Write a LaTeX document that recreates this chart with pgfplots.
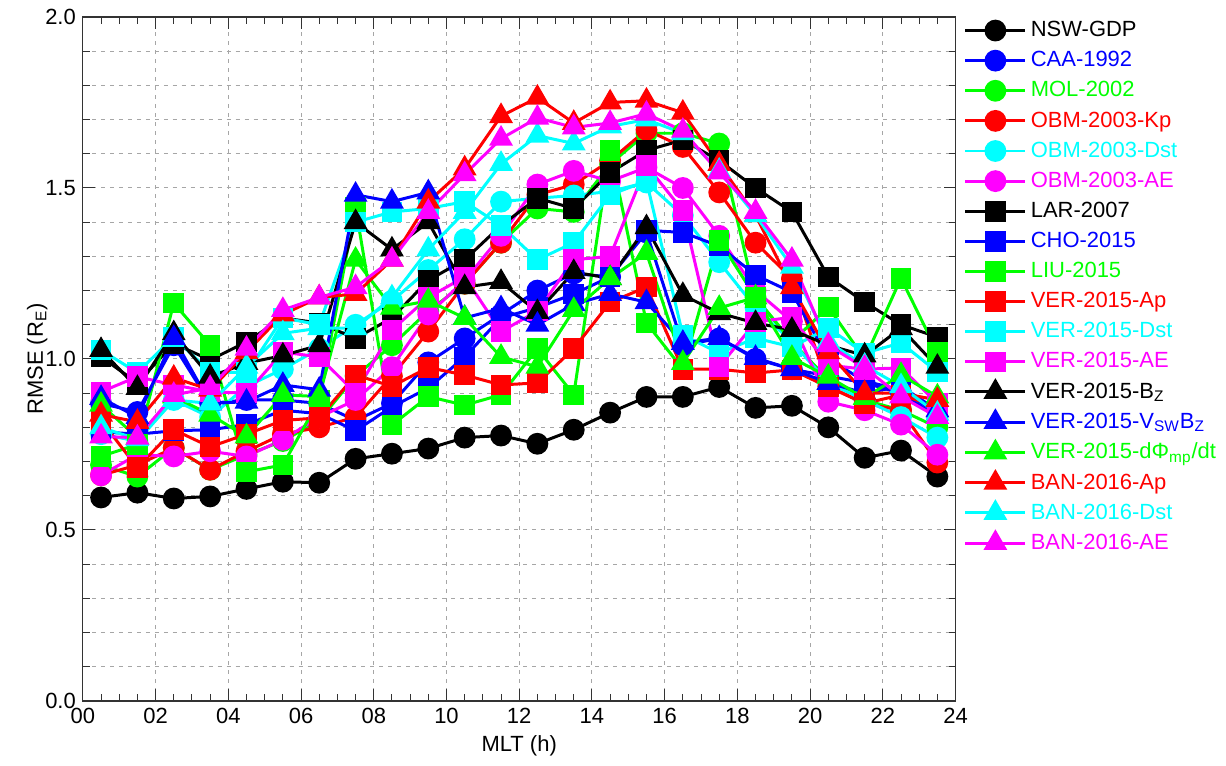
\documentclass[border=0pt]{standalone}
\usepackage{fontspec}
\setmainfont{Liberation Sans}
\usepackage{pgfplots}
\usepackage{pgfplotstable}
\pgfplotsset{compat=1.18}

\definecolor{cK}{rgb}{0,0,0}
\definecolor{cB}{rgb}{0,0,1}
\definecolor{cG}{rgb}{0,1,0}
\definecolor{cR}{rgb}{1,0,0}
\definecolor{cC}{rgb}{0,1,1}
\definecolor{cM}{rgb}{1,0,1}

% RMSE per MLT bin, one column per model
\pgfplotstableread{
x    nsw   caa   mol   obmkp obmdst obmae lar   cho   liu   verap verdst verae verbz vervb verdp banap bandst banae
0.5  0.595 0.87  0.69  0.66  0.78  0.66  1.006 0.787 0.715 0.82  1.026 0.904 1.026 0.886 0.866 0.837 0.80  0.773
1.5  0.609 0.845 0.656 0.69  0.76  0.72  0.93  0.78  0.75  0.682 0.96  0.948 0.915 0.83  0.77  0.816 0.765 0.77
2.5  0.592 1.04  0.74  0.74  0.88  0.715 1.045 0.79  1.163 0.793 1.064 0.924 1.075 1.061 0.89  0.945 0.88  0.895
3.5  0.598 0.87  0.676 0.676 0.83  0.73  0.997 0.793 1.04  0.743 0.962 0.904 0.948 0.87  0.837 0.91  0.87  0.915
4.5  0.620 0.88  0.72  0.73  0.92  0.715 1.05  0.808 0.67  0.78  0.96  0.90  0.988 0.875 0.773 1.02  0.977 1.03
5.5  0.641 0.88  0.76  0.78  0.97  0.764 1.12  0.85  0.69  0.82  1.12  1.02  1.01  0.924 0.895 1.13  1.075 1.143
6.5  0.638 0.87  0.82  0.80  1.03  0.83  1.105 0.84  0.88  0.828 1.10  1.006 1.04  0.91  0.89  1.18  1.09  1.18
7.5  0.708 0.82  0.95  0.83  1.10  0.88  1.06  0.79  1.443 0.953 1.40  0.90  1.40  1.48  1.29  1.19  1.09  1.21
8.5  0.723 0.87  1.04  0.95  1.17  0.976 1.12  0.86  0.807 0.92  1.43  1.085 1.32  1.46  1.15  1.29  1.18  1.29
9.5  0.738 0.99  1.14  1.08  1.26  1.13  1.23  0.915 0.89  0.975 1.44  1.18  1.40  1.487 1.17  1.46  1.32  1.43
10.5 0.770 1.06  1.22  1.22  1.35  1.23  1.29  1.006 0.865 0.953 1.46  1.24  1.21  1.12  1.12  1.557 1.43  1.54
11.5 0.776 1.13  1.34  1.34  1.46  1.36  1.39  1.12  0.895 0.924 1.39  1.08  1.225 1.148 1.006 1.71  1.57  1.644
12.5 0.752 1.20  1.44  1.48  1.47  1.51  1.47  1.15  1.03  0.93  1.29  1.14  1.137 1.10  0.977 1.764 1.653 1.705
13.5 0.793 1.25  1.43  1.51  1.478 1.55  1.44  1.19  0.895 1.03  1.34  1.29  1.254 1.16  1.143 1.69  1.63  1.677
14.5 0.843 1.24  1.57  1.58  1.49  1.52  1.545 1.24  1.61  1.166 1.48  1.30  1.236 1.19  1.236 1.75  1.68  1.69
15.5 0.889 1.37  1.66  1.67  1.516 1.56  1.61  1.376 1.105 1.21  1.52  1.566 1.385 1.166 1.31  1.755 1.70  1.717
16.5 0.889 1.04  1.66  1.62  1.42  1.50  1.64  1.37  0.97  0.97  1.07  1.434 1.187 1.047 0.988 1.72  1.66  1.667
17.5 0.918 1.06  1.63  1.487 1.283 1.36  1.58  1.33  1.347 0.97  1.017 0.977 1.134 1.061 1.149 1.57  1.55  1.545
18.5 0.857 1.00  1.18  1.34  1.15  1.20  1.50  1.245 1.18  0.959 1.061 1.108 1.105 1.003 1.18  1.42  1.42  1.43
19.5 0.863 0.97  1.05  1.235 1.05  1.11  1.43  1.195 1.05  0.968 1.035 1.122 1.085 0.97  1.003 1.21  1.27  1.29
20.5 0.800 0.95  0.94  0.92  0.93  0.875 1.24  1.00  1.152 0.918 1.09  0.982 1.04  0.93  0.948 1.02  1.05  1.04
21.5 0.711 0.93  0.88  0.87  0.88  0.85  1.166 0.935 1.00  0.87  1.017 0.97  1.01  0.90  0.886 0.90  0.98  0.974
22.5 0.732 0.90  0.85  0.85  0.83  0.808 1.10  0.91  1.236 0.895 1.047 0.974 1.09  0.92  0.953 0.90  0.92  0.89
23.5 0.656 0.83  0.80  0.697 0.77  0.72  1.064 0.84  1.02  0.86  0.962 0.87  0.977 0.85  0.89  0.88  0.84  0.83
}\rmse

\pgfplotsset{
  ser/.style={color=#1, line width=1.5pt, mark options={solid, fill=#1, draw=#1}},
  mc/.style={mark=*, mark size=4.7pt},
  ms/.style={mark=square*, mark size=4.4pt},
  mt/.style={mark=triangle*, mark size=5.4pt},
}

\begin{document}
\begin{tikzpicture}
\begin{axis}[
    name=ax,
    scale only axis,
    width=437pt,
    height=342.5pt,
    xmin=0, xmax=24,
    ymin=0, ymax=2,
    xtick={0,2,...,24},
    xticklabels={00,02,04,06,08,10,12,14,16,18,20,22,24},
    minor x tick num=3,
    ytick={0,0.5,1,1.5,2},
    minor ytick={0.1,0.2,0.3,0.4,0.6,0.7,0.8,0.9,1.1,1.2,1.3,1.4,1.6,1.7,1.8,1.9},
    yticklabel style={/pgf/number format/.cd, fixed, fixed zerofill, precision=1},
    /pgf/number format/assume math mode=true,
    tick align=inside,
    major tick length=6pt,
    minor tick length=3.5pt,
    tick style={black!80, line width=0.5pt},
    axis line style={black!80, line width=0.6pt},
    xmajorgrids, ymajorgrids, yminorgrids,
    grid style={gray!70, dash pattern=on 2pt off 2.5pt, line width=0.5pt},
    minor grid style={gray!70, dash pattern=on 2pt off 2.5pt, line width=0.5pt},
    tick label style={font=\fontsize{11}{13}\selectfont},
    label style={font=\fontsize{11}{13}\selectfont},
    xlabel={MLT (h)},
    ylabel={RMSE (R\textsubscript{E})},
    xlabel style={yshift=1pt},
    ylabel style={yshift=-8pt},
    legend style={at={(1,1)}, anchor=north west, xshift=1pt, yshift=2pt,
        draw=none, fill=none, font=\fontsize{11}{13}\selectfont, row sep=1.9pt},
    legend cell align=left,
    legend image code/.code={\draw[mark repeat=2,mark phase=2] plot coordinates {(0pt,0pt) (15pt,0pt) (30pt,0pt)};},
]
\addplot[ser=cK, mc] table[x=x, y=nsw] {\rmse};
\addlegendentry{\textcolor{cK}{NSW-GDP}}
\addplot[ser=cB, mc] table[x=x, y=caa] {\rmse};
\addlegendentry{\textcolor{cB}{CAA-1992}}
\addplot[ser=cG, mc] table[x=x, y=mol] {\rmse};
\addlegendentry{\textcolor{cG}{MOL-2002}}
\addplot[ser=cR, mc] table[x=x, y=obmkp] {\rmse};
\addlegendentry{\textcolor{cR}{OBM-2003-Kp}}
\addplot[ser=cC, mc] table[x=x, y=obmdst] {\rmse};
\addlegendentry{\textcolor{cC}{OBM-2003-Dst}}
\addplot[ser=cM, mc] table[x=x, y=obmae] {\rmse};
\addlegendentry{\textcolor{cM}{OBM-2003-AE}}
\addplot[ser=cK, ms] table[x=x, y=lar] {\rmse};
\addlegendentry{\textcolor{cK}{LAR-2007}}
\addplot[ser=cB, ms] table[x=x, y=cho] {\rmse};
\addlegendentry{\textcolor{cB}{CHO-2015}}
\addplot[ser=cG, ms] table[x=x, y=liu] {\rmse};
\addlegendentry{\textcolor{cG}{LIU-2015}}
\addplot[ser=cR, ms] table[x=x, y=verap] {\rmse};
\addlegendentry{\textcolor{cR}{VER-2015-Ap}}
\addplot[ser=cC, ms] table[x=x, y=verdst] {\rmse};
\addlegendentry{\textcolor{cC}{VER-2015-Dst}}
\addplot[ser=cM, ms] table[x=x, y=verae] {\rmse};
\addlegendentry{\textcolor{cM}{VER-2015-AE}}
\addplot[ser=cK, mt] table[x=x, y=verbz] {\rmse};
\addlegendentry{\textcolor{cK}{VER-2015-B\textsubscript{Z}}}
\addplot[ser=cB, mt] table[x=x, y=vervb] {\rmse};
\addlegendentry{\textcolor{cB}{VER-2015-V\textsubscript{SW}B\textsubscript{Z}}}
\addplot[ser=cG, mt] table[x=x, y=verdp] {\rmse};
\addlegendentry{\textcolor{cG}{VER-2015-dΦ\textsubscript{mp}/dt}}
\addplot[ser=cR, mt] table[x=x, y=banap] {\rmse};
\addlegendentry{\textcolor{cR}{BAN-2016-Ap}}
\addplot[ser=cC, mt] table[x=x, y=bandst] {\rmse};
\addlegendentry{\textcolor{cC}{BAN-2016-Dst}}
\addplot[ser=cM, mt] table[x=x, y=banae] {\rmse};
\addlegendentry{\textcolor{cM}{BAN-2016-AE}}
\end{axis}
% page frame matching the reference proportions
\path (ax.south west) ++(-41.5pt,-32.5pt) rectangle ++(613pt,383.5pt);
\end{tikzpicture}
\end{document}
